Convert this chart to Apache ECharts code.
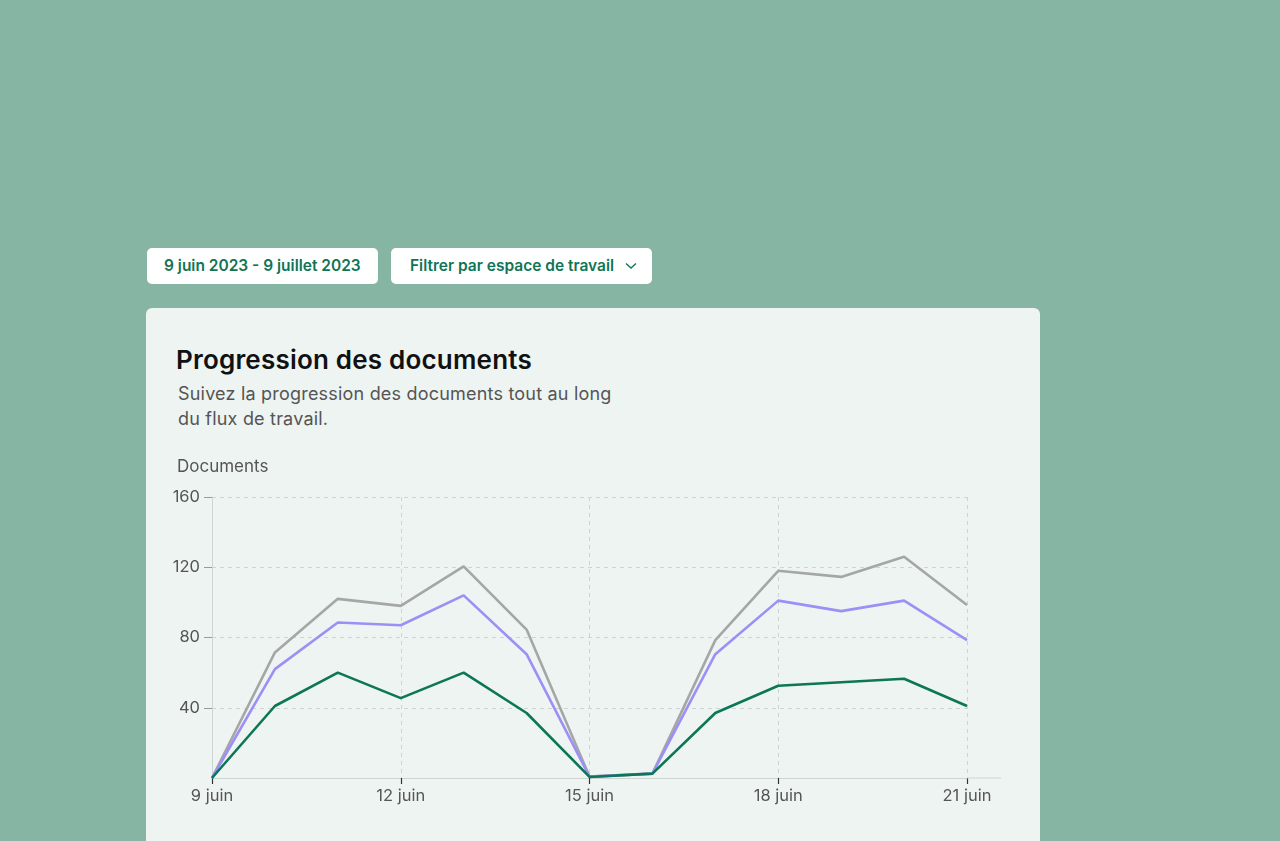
<!DOCTYPE html>
<html><head><meta charset="utf-8">
<script src="https://cdn.jsdelivr.net/npm/echarts@6/dist/echarts.min.js"></script>
<style>
html,body{margin:0;padding:0;width:1280px;height:841px;overflow:hidden;background:#86b5a4;font-family:Inter,"Open Sans",sans-serif;}
.btn{position:absolute;top:248px;height:36px;background:#fff;border-radius:5px;color:#0f7556;font-weight:600;font-size:15.5px;line-height:36px;box-sizing:border-box;}
#card{position:absolute;left:146px;top:308px;width:894px;height:600px;background:#edf4f1;border-radius:6px;}
#title{position:absolute;left:176px;top:344px;font-size:26px;font-weight:600;color:#111;margin:0;letter-spacing:0.2px;}
#sub{position:absolute;left:178px;top:381px;font-size:18px;line-height:25px;color:#555;margin:0;letter-spacing:0.2px;}
#chart{position:absolute;left:146px;top:440px;width:894px;height:401px;}
</style></head><body>
<div class="btn" style="left:147px;width:231px;padding-left:17px;">9 juin 2023 - 9 juillet 2023</div>
<div class="btn" style="left:391px;width:261px;padding-left:19px;">Filtrer par espace de travail
<svg width="12" height="8" style="position:absolute;left:234px;top:14px" viewBox="0 0 12 8"><polyline points="1,1.5 6,6 11,1.5" fill="none" stroke="#0f7556" stroke-width="1.4"/></svg></div>
<div id="card"></div>
<h1 id="title">Progression des documents</h1>
<p id="sub">Suivez la progression des documents tout au long<br>du flux de travail.</p>
<div id="chart"></div>
<script>
const days = [9,10,11,12,13,14,15,16,17,18,19,20,21];
const totalDocs = [0,71.5,102,98,120.5,84.5,0.8,2.5,78.5,118,114.5,126,98.5];
const inProgress = [0,62,88.5,87,104,70.5,0.8,2.5,70.5,101,95,101,78.5];
const completed = [0,41,60,45.5,60,37,0.6,2.5,37,52.5,54.5,56.5,41];
const yTicks = {min:0,max:160,interval:40};
const xTicks = {min:9,max:21,interval:3};

const chart = echarts.init(document.getElementById('chart'));
const pairs = arr => days.map((d,i)=>[d,arr[i]]);
const lineSeries = (name, arr, color) => ({
  name, type:'line', data:pairs(arr), symbol:'none', smooth:false,
  lineStyle:{color, width:2.6}, itemStyle:{color}, z: 3
});
chart.setOption({
  animation:false,
  grid:{left:66,top:57,right:73,bottom:63},
  xAxis:{
    type:'value', min:xTicks.min, max:xTicks.max, interval:xTicks.interval,
    axisLine:{show:true,lineStyle:{color:'#cfd4d2',width:1}},
    axisTick:{show:true,length:6,lineStyle:{color:'#333',width:1.2}},
    axisLabel:{formatter:v=>v+' juin',color:'#555',fontSize:16.5,margin:10,fontFamily:'Inter'},
    splitLine:{show:true,lineStyle:{color:'#cfd3d1',type:[4,4],width:1}}
  },
  yAxis:{
    type:'value', min:yTicks.min, max:yTicks.max, interval:yTicks.interval,
    name:'Documents', nameLocation:'end', nameGap:22,
    nameTextStyle:{align:'left',padding:[0,0,0,-35],color:'#555',fontSize:17,fontFamily:'Inter'},
    axisLine:{show:true,lineStyle:{color:'#cfd4d2',width:1}},
    axisTick:{show:true,length:8,lineStyle:{color:'#999',width:1}},
    axisLabel:{showMinLabel:false,color:'#555',fontSize:16.5,margin:12,fontFamily:'Inter'},
    splitLine:{show:true,lineStyle:{color:'#cfd3d1',type:[4,4],width:1}}
  },
  series:[
    lineSeries('Total', totalDocs, '#a5a7a6'),
    lineSeries('En cours', inProgress, '#9d8ff5'),
    lineSeries('Terminés', completed, '#0c7656')
  ]
});
const pEnd = chart.convertToPixel({xAxisIndex:0,yAxisIndex:0},[xTicks.max,yTicks.min]);
chart.setOption({graphic:[{type:'line',shape:{x1:pEnd[0],y1:pEnd[1],x2:pEnd[0]+34,y2:pEnd[1]},style:{stroke:'#cfd4d2',lineWidth:1},z:1}]});
</script>
</body></html>
